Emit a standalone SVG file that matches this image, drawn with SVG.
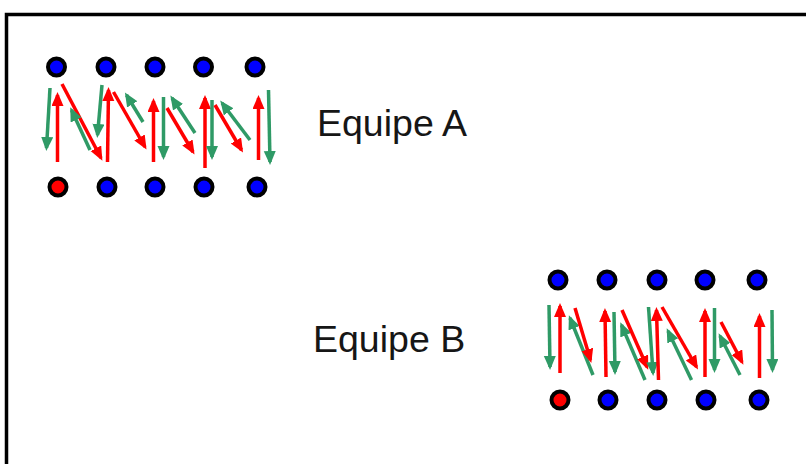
<svg xmlns="http://www.w3.org/2000/svg" width="806" height="464" viewBox="0 0 806 464">
<style>
.frame{fill:none;stroke:#000;stroke-width:3.5}
.p{fill:#0000ff;stroke:#000;stroke-width:4}
.k{fill:#ff0000;stroke:#000;stroke-width:4}
.r{stroke:#ff0000;stroke-width:3.5;fill:none;marker-end:url(#ar)}
.g{stroke:#2f9a66;stroke-width:3.5;fill:none;marker-end:url(#ag)}
.t{font-family:"Liberation Sans",Arial,sans-serif;font-size:37.5px;fill:#161616}
</style>
<defs>
<marker id="ar" markerUnits="userSpaceOnUse" markerWidth="15" markerHeight="13" refX="11" refY="6" orient="auto"><path d="M0,0 L14,6 L0,12 z" fill="#ff0000"/></marker>
<marker id="ag" markerUnits="userSpaceOnUse" markerWidth="15" markerHeight="13" refX="11" refY="6" orient="auto"><path d="M0,0 L14,6 L0,12 z" fill="#2f9a66"/></marker>
</defs>
<rect class="frame" x="6.5" y="14.5" width="830" height="480"/>
<g id="teamA">
<g id="teamA-top">
<circle class="p" cx="56.5" cy="67" r="8.5"/><circle class="p" cx="106" cy="67" r="8.5"/><circle class="p" cx="155" cy="67" r="8.5"/><circle class="p" cx="203.5" cy="67" r="8.5"/><circle class="p" cx="255" cy="67" r="8.5"/>
</g>
<g id="teamA-bottom">
<circle class="k" cx="58" cy="187" r="8.5"/><circle class="p" cx="107" cy="187" r="8.5"/><circle class="p" cx="155" cy="187" r="8.5"/><circle class="p" cx="204" cy="187" r="8.5"/><circle class="p" cx="257" cy="187" r="8.5"/>
</g>
<text id="labelA" class="t" x="317" y="136">Equipe A</text>
</g>
<g id="teamB">
<g id="teamB-top">
<circle class="p" cx="558" cy="280" r="8.5"/><circle class="p" cx="607" cy="280" r="8.5"/><circle class="p" cx="657" cy="280" r="8.5"/><circle class="p" cx="705" cy="280" r="8.5"/><circle class="p" cx="757" cy="280" r="8.5"/>
</g>
<g id="teamB-bottom">
<circle class="k" cx="560" cy="400" r="8.5"/><circle class="p" cx="608" cy="400" r="8.5"/><circle class="p" cx="657" cy="400" r="8.5"/><circle class="p" cx="706" cy="400" r="8.5"/><circle class="p" cx="759" cy="400" r="8.5"/>
</g>
<text id="labelB" class="t" x="313" y="352">Equipe B</text>
</g>
<g id="connectors">
<line class="g" x1="50" y1="88" x2="46.5" y2="148"/>
<line class="r" x1="57.5" y1="162" x2="57.5" y2="95"/>
<line class="r" x1="62" y1="84" x2="101" y2="158"/>
<line class="g" x1="90" y1="150" x2="71.5" y2="110"/>
<line class="g" x1="102" y1="85" x2="97.5" y2="135"/>
<line class="r" x1="107.5" y1="162" x2="108.5" y2="90"/>
<line class="r" x1="113.5" y1="92" x2="145" y2="147"/>
<line class="g" x1="143" y1="122" x2="126.5" y2="95"/>
<line class="r" x1="153.5" y1="162" x2="153.5" y2="101"/>
<line class="g" x1="163.5" y1="97" x2="163.5" y2="157"/>
<line class="g" x1="195" y1="133" x2="172" y2="98"/>
<line class="r" x1="167" y1="108" x2="193" y2="152"/>
<line class="r" x1="205" y1="168" x2="205" y2="98"/>
<line class="g" x1="212" y1="100" x2="212" y2="157"/>
<line class="g" x1="250" y1="140" x2="222" y2="103"/>
<line class="r" x1="215" y1="105" x2="241.5" y2="150"/>
<line class="r" x1="258.5" y1="160" x2="258.5" y2="98"/>
<line class="g" x1="268.5" y1="90" x2="270" y2="162"/>

<line class="g" x1="549" y1="305" x2="550" y2="367"/>
<line class="r" x1="560" y1="373" x2="560" y2="306"/>
<line class="g" x1="593" y1="375" x2="570" y2="318"/>
<line class="r" x1="575" y1="308" x2="590.5" y2="360"/>
<line class="r" x1="606" y1="377" x2="605" y2="311"/>
<line class="g" x1="614" y1="312" x2="615" y2="372"/>
<line class="g" x1="645" y1="380" x2="621.5" y2="325"/>
<line class="r" x1="622" y1="310" x2="647" y2="367"/>
<line class="g" x1="648.5" y1="307" x2="653" y2="373"/>
<line class="r" x1="658.5" y1="380" x2="656.5" y2="310"/>
<line class="r" x1="662" y1="307" x2="696.5" y2="367"/>
<line class="g" x1="691.5" y1="380" x2="668" y2="331"/>
<line class="r" x1="705" y1="377" x2="705" y2="311"/>
<line class="g" x1="714.5" y1="308" x2="714.5" y2="370"/>
<line class="g" x1="740" y1="375" x2="720" y2="336"/>
<line class="r" x1="721" y1="322" x2="742" y2="362"/>
<line class="r" x1="759.5" y1="378" x2="759.5" y2="316"/>
<line class="g" x1="772" y1="310" x2="772.5" y2="370"/>
</g>
</svg>
